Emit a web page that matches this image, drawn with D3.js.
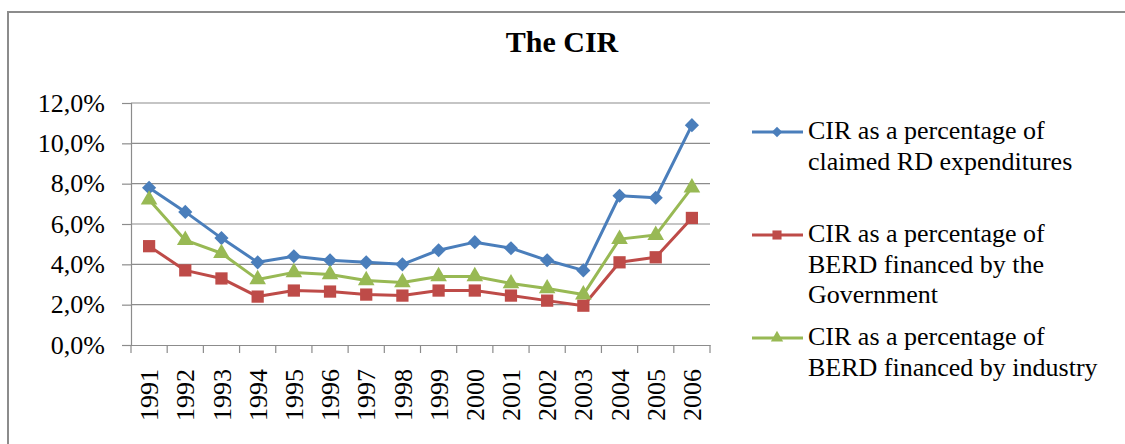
<!DOCTYPE html>
<html>
<head>
<meta charset="utf-8">
<script src="https://cdn.jsdelivr.net/npm/d3@7"></script>
</head>
<body style="margin:0;padding:0;background:#fff">
<svg id="chart" width="1125" height="444" style="display:block"></svg>
<script>
const years = ["1991","1992","1993","1994","1995","1996","1997","1998","1999","2000","2001","2002","2003","2004","2005","2006"];
const cirClaimed = [7.8, 6.6, 5.3, 4.1, 4.4, 4.2, 4.1, 4.0, 4.7, 5.1, 4.8, 4.2, 3.7, 7.4, 7.3, 10.9];
const cirGovernment = [4.9, 3.7, 3.3, 2.4, 2.7, 2.65, 2.5, 2.45, 2.7, 2.7, 2.45, 2.2, 1.95, 4.1, 4.35, 6.3];
const cirIndustry = [7.2, 5.2, 4.55, 3.25, 3.6, 3.5, 3.2, 3.1, 3.4, 3.4, 3.05, 2.8, 2.5, 5.25, 5.45, 7.8];
const yTicks = [0, 2, 4, 6, 8, 10, 12];
const seriesNames = [
  ["CIR as a percentage of", "claimed RD expenditures"],
  ["CIR as a percentage of", "BERD financed by the", "Government"],
  ["CIR as a percentage of", "BERD financed by industry"]
];
const title = "The CIR";
const FONT = "'Liberation Serif', 'Times New Roman', serif";

const series = [
  { name: seriesNames[0], values: cirClaimed, color: "#4a7ebb", symbol: d3.symbolSquare, size: 100, rot: 45 },
  { name: seriesNames[1], values: cirGovernment, color: "#be4b48", symbol: d3.symbolSquare, size: 150, rot: 0 },
  { name: seriesNames[2], values: cirIndustry, color: "#98b954", symbol: d3.symbolTriangle, size: 120, rot: 0 }
];

const svg = d3.select("#chart").style("font-family", FONT);
const plotLeft = 131, plotRight = 710, plotTop = 103, plotBottom = 345;

// Outer border (left and top)
svg.append("line").attr("x1", 8).attr("x2", 8).attr("y1", 12).attr("y2", 444)
  .attr("stroke", "#8c8c8c").attr("stroke-width", 2);
svg.append("line").attr("x1", 7).attr("x2", 1125).attr("y1", 12).attr("y2", 12)
  .attr("stroke", "#8c8c8c").attr("stroke-width", 2);

svg.append("text").attr("x", 562).attr("y", 52).attr("text-anchor", "middle")
  .style("font-family", FONT).style("font-size", "30px").style("font-weight", "bold").text(title);

const x = d3.scaleBand().domain(years).range([plotLeft, plotRight]).padding(0);
const y = d3.scaleLinear().domain([0, 12]).range([plotBottom, plotTop]);

// Gridlines
svg.append("g").selectAll("line").data(yTicks.filter(t => t > 0)).join("line")
  .attr("x1", plotLeft).attr("x2", plotRight)
  .attr("y1", d => y(d)).attr("y2", d => y(d))
  .attr("stroke", "#8c8c8c").attr("stroke-width", 1.2);

// Y axis
const yAxis = svg.append("g").attr("transform", `translate(${plotLeft},0)`)
  .call(d3.axisLeft(y).tickValues(yTicks).tickSize(9).tickPadding(17)
    .tickFormat(d => d.toFixed(1).replace(".", ",") + "%"));
yAxis.attr("font-family", FONT).attr("font-size", 26);
yAxis.select(".domain").attr("stroke", "#8c8c8c").attr("stroke-width", 1.2);
yAxis.selectAll(".tick line").attr("stroke", "#8c8c8c").attr("stroke-width", 1.2);
yAxis.selectAll(".tick text").style("font-family", FONT).style("font-size", "26px").attr("fill", "#000");

// X axis
const xAxis = svg.append("g").attr("transform", `translate(0,${plotBottom})`)
  .call(d3.axisBottom(x).tickSize(0).tickFormat(""));
xAxis.select(".domain").attr("stroke", "#8c8c8c").attr("stroke-width", 1.2);
xAxis.selectAll(".tick").remove();
const boundaries = years.map(d => x(d)).concat([x(years[years.length - 1]) + x.bandwidth()]);
xAxis.append("g").selectAll("line").data(boundaries).join("line")
  .attr("x1", d => d).attr("x2", d => d).attr("y1", 0).attr("y2", 8)
  .attr("stroke", "#8c8c8c").attr("stroke-width", 1.2);
svg.append("g").selectAll("text").data(years).join("text")
  .attr("transform", d => `translate(${x(d) + x.bandwidth() / 2},369) rotate(-90)`)
  .attr("text-anchor", "end").attr("dy", "0.35em")
  .style("font-family", FONT).style("font-size", "26px").text(d => d);

// Lines and markers
const line = d3.line().x((d, i) => x(years[i]) + x.bandwidth() / 2).y(d => y(d));
series.forEach(s => {
  svg.append("path").datum(s.values).attr("d", line)
    .attr("fill", "none").attr("stroke", s.color).attr("stroke-width", 3)
    .attr("stroke-linejoin", "round");
  svg.append("g").selectAll("path").data(s.values).join("path")
    .attr("transform", (d, i) => `translate(${x(years[i]) + x.bandwidth() / 2},${y(d)}) rotate(${s.rot})`)
    .attr("d", d3.symbol(s.symbol, s.size)())
    .attr("fill", s.color);
});

// Legend
const legendY = [132, 235, 338];
series.forEach((s, k) => {
  const g = svg.append("g");
  g.append("line").attr("x1", 752).attr("x2", 803).attr("y1", legendY[k]).attr("y2", legendY[k])
    .attr("stroke", s.color).attr("stroke-width", 3);
  g.append("path").attr("transform", `translate(777,${legendY[k]}) rotate(${s.rot})`)
    .attr("d", d3.symbol(s.symbol, s.size * 0.55)()).attr("fill", s.color);
  s.name.forEach((t, j) => {
    g.append("text").attr("x", 808).attr("y", legendY[k] + 7 + j * 30.5)
      .style("font-family", FONT).style("font-size", "26px").text(t);
  });
});
</script>
</body>
</html>
